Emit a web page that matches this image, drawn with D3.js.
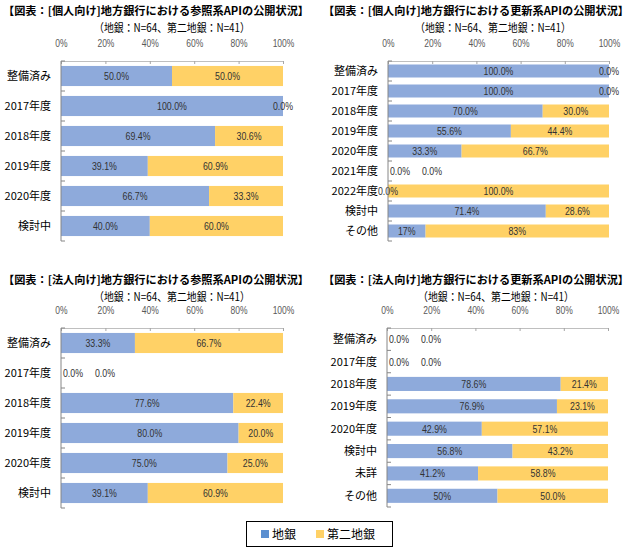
<!DOCTYPE html>
<html><head><meta charset="utf-8">
<script src="https://cdn.jsdelivr.net/npm/d3@7"></script>
<style>
body{margin:0;background:#fff;}
svg{display:block;font-family:"Noto Sans CJK JP","Noto Sans",sans-serif;}
</style></head><body>
<svg id="c" width="637" height="556"></svg>
<script>
const seriesNames = ['地銀', '第二地銀'];
const tickValues = [0, 20, 40, 60, 80, 100];
const tickLabels = ['0%', '20%', '40%', '60%', '80%', '100%'];
const subtitle = '（地銀：N=64、第二地銀：N=41）';

const p1Title = '【図表：[個人向け]地方銀行における参照系APIの公開状況】';
const p1Categories = ['整備済み', '2017年度', '2018年度', '2019年度', '2020年度', '検討中'];
const p1Chigin = [50.0, 100.0, 69.4, 39.1, 66.7, 40.0];
const p1Daini = [50.0, 0.0, 30.6, 60.9, 33.3, 60.0];
const p1ChiginDecimals = [1, 1, 1, 1, 1, 1];
const p1DainiDecimals = [1, 1, 1, 1, 1, 1];

const p2Title = '【図表：[個人向け]地方銀行における更新系APIの公開状況】';
const p2Categories = ['整備済み', '2017年度', '2018年度', '2019年度', '2020年度', '2021年度', '2022年度', '検討中', 'その他'];
const p2Chigin = [100.0, 100.0, 70.0, 55.6, 33.3, 0.0, 0.0, 71.4, 17];
const p2Daini = [0.0, 0.0, 30.0, 44.4, 66.7, 0.0, 100.0, 28.6, 83];
const p2ChiginDecimals = [1, 1, 1, 1, 1, 1, 1, 1, 0];
const p2DainiDecimals = [1, 1, 1, 1, 1, 1, 1, 1, 0];

const p3Title = '【図表：[法人向け]地方銀行における参照系APIの公開状況】';
const p3Categories = ['整備済み', '2017年度', '2018年度', '2019年度', '2020年度', '検討中'];
const p3Chigin = [33.3, 0.0, 77.6, 80.0, 75.0, 39.1];
const p3Daini = [66.7, 0.0, 22.4, 20.0, 25.0, 60.9];
const p3ChiginDecimals = [1, 1, 1, 1, 1, 1];
const p3DainiDecimals = [1, 1, 1, 1, 1, 1];

const p4Title = '【図表：[法人向け]地方銀行における更新系APIの公開状況】';
const p4Categories = ['整備済み', '2017年度', '2018年度', '2019年度', '2020年度', '検討中', '未詳', 'その他'];
const p4Chigin = [0.0, 0.0, 78.6, 76.9, 42.9, 56.8, 41.2, 50];
const p4Daini = [0.0, 0.0, 21.4, 23.1, 57.1, 43.2, 58.8, 50.0];
const p4ChiginDecimals = [1, 1, 1, 1, 1, 1, 1, 0];
const p4DainiDecimals = [1, 1, 1, 1, 1, 1, 1, 1];

const colors = ['#8EAADB', '#FFD166'];
const legendColors = ['#5B8FD0', '#FFD166'];

const svg = d3.select('#c');

function drawPanel(cfg) {
  const g = svg.append('g');
  g.append('text').attr('x', cfg.titleX).attr('y', cfg.titleY)
    .attr('font-size', 11).attr('font-weight', 'bold').attr('fill', '#000')
    .attr('textLength', 306).attr('lengthAdjust', 'spacingAndGlyphs')
    .text(cfg.title);
  g.append('text').attr('x', cfg.subX).attr('y', cfg.titleY + 17)
    .attr('font-size', 11.5).attr('fill', '#000').attr('text-anchor', 'middle')
    .attr('textLength', 156).attr('lengthAdjust', 'spacingAndGlyphs')
    .text(subtitle);

  const x = d3.scaleLinear().domain([0, 100]).range([cfg.x0, cfg.x1]);
  const y = d3.scaleBand().domain(cfg.categories).range([cfg.y0, cfg.y1])
    .paddingInner(cfg.pad).paddingOuter(cfg.pad / 2);

  const xAxis = d3.axisTop(x).tickValues(tickValues)
    .tickFormat((d, i) => tickLabels[i]).tickSize(-3).tickPadding(14);
  const ax = g.append('g').attr('transform', `translate(0,${cfg.y0})`).call(xAxis);
  ax.select('.domain').attr('stroke', '#BFBFBF');
  ax.selectAll('.tick line').attr('stroke', '#A6A6A6');
  ax.selectAll('.tick text').attr('font-size', 10).attr('fill', '#595959')
    .attr('font-family', '"Liberation Sans",sans-serif')
    .each(function () {
      const w = this.getComputedTextLength();
      d3.select(this).attr('textLength', w * 0.85).attr('lengthAdjust', 'spacingAndGlyphs');
    });

  const rows = cfg.categories.map((c, i) => ({
    c, a: cfg.chigin[i], b: cfg.daini[i], da: cfg.chiginDec[i], db: cfg.dainiDec[i]
  }));
  const bh = y.bandwidth();
  rows.forEach(r => {
    g.append('rect').attr('x', x(0)).attr('y', y(r.c))
      .attr('width', x(r.a) - x(0)).attr('height', bh).attr('fill', colors[0]);
    g.append('rect').attr('x', x(r.a)).attr('y', y(r.c))
      .attr('width', x(r.a + r.b) - x(r.a)).attr('height', bh).attr('fill', colors[1]);
    let ca = (x(0) + x(r.a)) / 2;
    let cb = (x(r.a) + x(r.a + r.b)) / 2;
    if (r.a === 0 && r.b === 0) { ca = x(0) + 12; cb = x(0) + 44; }
    const ty = y(r.c) + bh / 2 + 4;
    [[ca, r.a, r.da], [cb, r.b, r.db]].forEach(([cx, v, dec]) => {
      const t = g.append('text').attr('x', cx).attr('y', ty).attr('text-anchor', 'middle')
        .attr('font-size', 11).attr('fill', '#333')
        .attr('font-family', '"Liberation Sans",sans-serif')
        .text(v.toFixed(dec) + '%');
      const w = t.node().getComputedTextLength();
      t.attr('textLength', w * 0.8).attr('lengthAdjust', 'spacingAndGlyphs');
    });
  });

  g.append('line').attr('x1', cfg.x0).attr('x2', cfg.x0).attr('y1', cfg.y0).attr('y2', cfg.y1)
    .attr('stroke', '#868686');
  const step = y.step();
  d3.range(cfg.categories.length + 1).forEach(i => {
    const yy = y.range()[0] + i * step;
    g.append('line').attr('x1', cfg.x0).attr('x2', cfg.x0 + 4).attr('y1', yy).attr('y2', yy)
      .attr('stroke', '#868686');
  });
  cfg.categories.forEach(c => {
    g.append('text').attr('x', cfg.x0 - 10).attr('y', y(c) + bh / 2 + 4)
      .attr('text-anchor', 'end').attr('font-size', 11).attr('fill', '#000').text(c);
  });
}

drawPanel({title: p1Title, titleX: 3, titleY: 15, subX: 172, x0: 61, x1: 283, y0: 61, y1: 241, pad: 0.33,
  categories: p1Categories, chigin: p1Chigin, daini: p1Daini, chiginDec: p1ChiginDecimals, dainiDec: p1DainiDecimals});
drawPanel({title: p2Title, titleX: 323, titleY: 15, subX: 493, x0: 388, x1: 609, y0: 61, y1: 241, pad: 0.35,
  categories: p2Categories, chigin: p2Chigin, daini: p2Daini, chiginDec: p2ChiginDecimals, dainiDec: p2DainiDecimals});
drawPanel({title: p3Title, titleX: 3, titleY: 284, subX: 172, x0: 61, x1: 283, y0: 328, y1: 508, pad: 0.33,
  categories: p3Categories, chigin: p3Chigin, daini: p3Daini, chiginDec: p3ChiginDecimals, dainiDec: p3DainiDecimals});
drawPanel({title: p4Title, titleX: 323, titleY: 284, subX: 496, x0: 387, x1: 608, y0: 328, y1: 507, pad: 0.37,
  categories: p4Categories, chigin: p4Chigin, daini: p4Daini, chiginDec: p4ChiginDecimals, dainiDec: p4DainiDecimals});

const lg = svg.append('g');
lg.append('rect').attr('x', 246.5).attr('y', 521.5).attr('width', 146).attr('height', 25)
  .attr('fill', '#fff').attr('stroke', '#000');
const legX = [261, 316];
seriesNames.forEach((n, i) => {
  lg.append('rect').attr('x', legX[i]).attr('y', 530).attr('width', 8).attr('height', 8).attr('fill', legendColors[i]);
  lg.append('text').attr('x', legX[i] + 11).attr('y', 538.5).attr('font-size', 12).attr('fill', '#000').text(n);
});
</script></body></html>
